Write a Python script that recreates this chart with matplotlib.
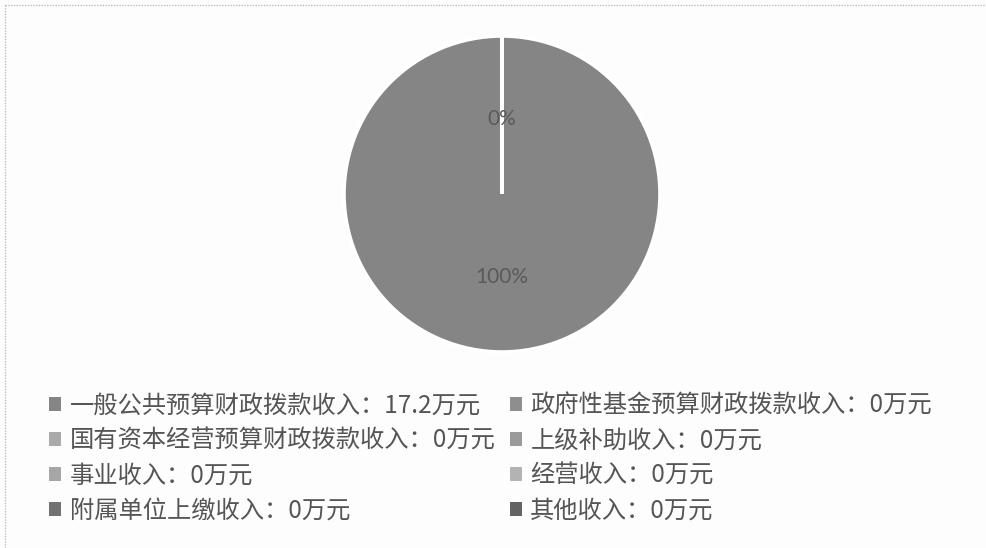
import matplotlib.pyplot as plt
from matplotlib.lines import Line2D

plt.rcParams['font.family'] = ['Noto Sans CJK SC', 'DejaVu Sans']

# 收入决算数据（万元）
categories = ['一般公共预算财政拨款收入', '政府性基金预算财政拨款收入',
              '国有资本经营预算财政拨款收入', '上级补助收入',
              '事业收入', '经营收入', '附属单位上缴收入', '其他收入']
values = [17.2, 0, 0, 0, 0, 0, 0, 0]
value_labels = ['17.2', '0', '0', '0', '0', '0', '0', '0']

# 扫描件里的灰度色
colors = ['#858585', '#8e8e8e', '#a9a9a9', '#9a9a9a',
          '#a6a6a6', '#b3b3b3', '#727272', '#636363']

W, H = 987, 548
fig = plt.figure(figsize=(W / 100, H / 100), dpi=100, facecolor='#fdfdfd')

# 饼图位置（像素）
cx, cy, r = 502, 194, 158
ax = fig.add_axes([(cx - r) / W, 1 - (cy + r) / H, 2 * r / W, 2 * r / H])
wedges, texts, autotexts = ax.pie(
    values, colors=colors, startangle=90, counterclock=False,
    autopct='%1.0f%%', pctdistance=0.5,
    wedgeprops=dict(edgecolor='white', linewidth=2.6),
    textprops=dict(color='#5a5a5a', fontsize=15, family=['Lato', 'DejaVu Sans']))
ax.set_xlim(-1, 1)
ax.set_ylim(-1, 1)
ax.set_aspect('equal')

# 只留一个 0% 标签（其余重叠）
for t in autotexts[2:]:
    t.set_visible(False)
for t in autotexts:
    x, y = t.get_position()
    t.set_position((x, y - 0.025))

# 图例：Excel 按行排列，matplotlib 按列填充，所以重新排序
labels = [f'{c}：{v}万元' for c, v in zip(categories, value_labels)]
handles = [plt.Rectangle((0, 0), 1, 1, facecolor=c, edgecolor='none') for c in colors]
order = [0, 2, 4, 6, 1, 3, 5, 7]
leg = fig.legend([handles[i] for i in order], [labels[i] for i in order],
                 ncol=2, loc='upper left', bbox_to_anchor=(49 / W, 1 - 393 / H),
                 frameon=False, fontsize=17.5, borderpad=0, borderaxespad=0,
                 handlelength=0.5, handleheight=0.5, handletextpad=0.35,
                 labelspacing=0.36, columnspacing=0.58)
for t in leg.get_texts():
    t.set_color('#555555')

# 外框（扫描件只看得到上边和左边）
fig.add_artist(Line2D([5 / W, 1], [1 - 5 / H, 1 - 5 / H], color='#bdbdbd',
                      linewidth=1, linestyle=(0, (1, 1))))
fig.add_artist(Line2D([5 / W, 5 / W], [0, 1 - 5 / H], color='#bdbdbd',
                      linewidth=1, linestyle=(0, (1, 1))))

fig.savefig('out.png', dpi=100, facecolor=fig.get_facecolor())
